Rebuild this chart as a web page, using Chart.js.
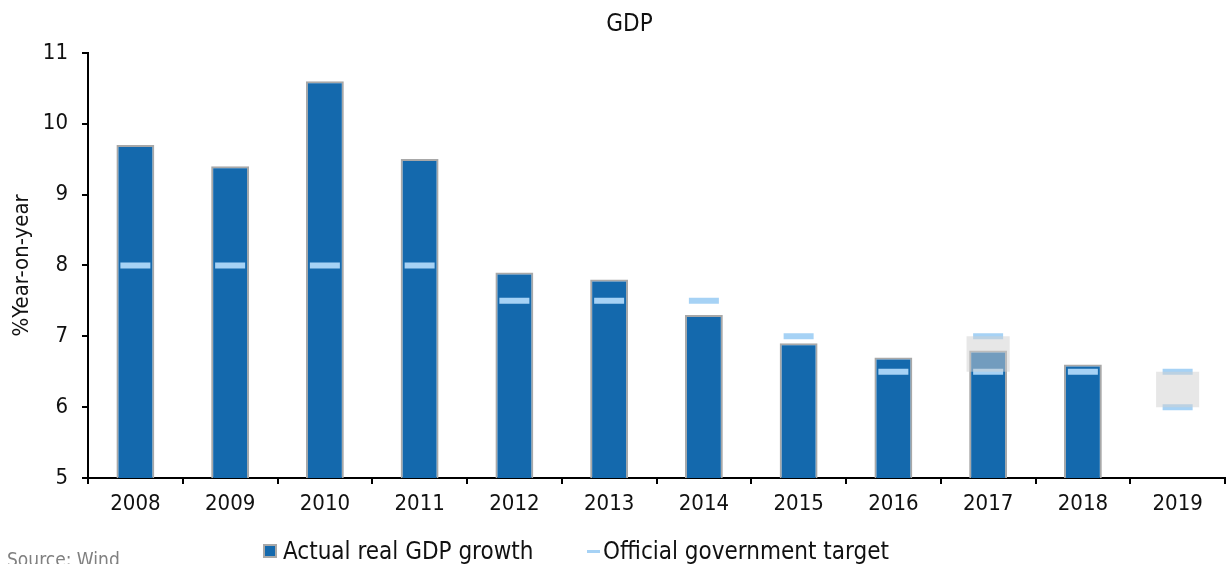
<!DOCTYPE html>
<html>
<head>
<meta charset="utf-8">
<script src="https://cdn.jsdelivr.net/npm/chart.js@4/dist/chart.umd.min.js"></script>
<style>
  html, body { margin: 0; padding: 0; background: #fff; overflow: hidden; }
  #wrap { position: relative; width: 1228px; height: 564px; overflow: hidden; }
  #source { position: absolute; left: 7px; top: 548px; font: 19px 'DejaVu Sans Condensed', 'DejaVu Sans', sans-serif; color: #808080; white-space: nowrap; }
  .leg { position: absolute; top: 537px; font: 24px 'DejaVu Sans Condensed', 'DejaVu Sans', sans-serif; color: #111; white-space: nowrap; }
  .sw-bar { position: absolute; left: 263px; top: 544px; width: 10px; height: 10px; background: #1469ad; border: 2px solid #a8a8a8; }
  .sw-line { position: absolute; left: 587px; top: 550px; width: 13px; height: 3px; background: #a6d2f5; }
</style>
</head>
<body>
<div id="wrap">
  <canvas id="chart1" width="1228" height="564"></canvas>
  <div class="sw-bar"></div>
  <div class="leg" style="left:283px">Actual real GDP growth</div>
  <div class="sw-line"></div>
  <div class="leg" style="left:603px">Official government target</div>
  <div id="source">Source: Wind</div>
</div>
<script>
// years on the x axis
const years = ['2008', '2009', '2010', '2011', '2012', '2013', '2014', '2015', '2016', '2017', '2018', '2019'];
// actual real GDP growth, %y/y
const actualGrowth = [9.7, 9.4, 10.6, 9.5, 7.9, 7.8, 7.3, 6.9, 6.7, 6.8, 6.6, null];
// official target (upper / single value)
const targetMain = [8, 8, 8, 8, 7.5, 7.5, 7.5, 7, 6.5, 7, 6.5, 6.5];
// lower end where the target was given as a range
const targetLow = [null, null, null, null, null, null, null, null, null, 6.5, null, 6];
// shaded target ranges
const targetRange = [null, null, null, null, null, null, null, null, null, [6.5, 7], null, [6, 6.5]];

const FONT = "'DejaVu Sans Condensed', 'DejaVu Sans', sans-serif";
Chart.defaults.font.family = FONT;
Chart.defaults.color = '#111';

const targetStyle = {
    type: 'line',
    showLine: false,
    pointStyle: 'line',
    pointRadius: 15,
    pointHoverRadius: 15,
    pointBorderWidth: 6,
    pointBorderColor: '#a6d2f5',
    borderColor: '#a6d2f5',
    order: 1
};

// nudge the title a bit right, like the original
const titleShift = {
    id: 'titleShift',
    afterLayout(chart) {
        const t = chart.titleBlock;
        if (t) { t.left += 17; t.right += 17; }
    }
};

const ctx = document.getElementById('chart1').getContext('2d');
const chart1 = new Chart(ctx, {
    type: 'bar',
    data: {
        labels: years,
        datasets: [
            {
                label: 'Target range',
                data: targetRange,
                backgroundColor: 'rgba(208,208,208,0.5)',
                borderWidth: 0,
                grouped: false,
                categoryPercentage: 1,
                barPercentage: 0.455,
                order: 0
            },
            Object.assign({ label: 'Official government target', data: targetMain }, targetStyle),
            Object.assign({ label: 'Official government target (low)', data: targetLow }, targetStyle),
            {
                label: 'Actual real GDP growth',
                data: actualGrowth,
                backgroundColor: '#1469ad',
                borderColor: '#a8a8a8',
                borderWidth: 2,
                grouped: false,
                categoryPercentage: 1,
                barPercentage: 0.4,
                order: 2
            }
        ]
    },
    plugins: [titleShift],
    options: {
        responsive: false,
        animation: false,
        layout: { autoPadding: false, padding: { left: 0, right: 3, top: 0, bottom: 46 } },
        plugins: {
            legend: { display: false },
            tooltip: { enabled: false },
            title: {
                display: true,
                text: 'GDP',
                color: '#111',
                font: { size: 24, weight: 'normal' },
                padding: { top: 10, bottom: 14 }
            }
        },
        scales: {
            x: {
                offset: true,
                grid: { display: true, offset: true, drawOnChartArea: false, drawTicks: true, tickLength: 6, color: '#000', lineWidth: 2 },
                border: { display: true, color: '#000', width: 2 },
                ticks: { font: { size: 22 }, padding: 7, color: '#111', maxRotation: 0 },
                afterFit: s => { s.height = 40; s.paddingLeft = 0; s.paddingRight = 0; }
            },
            y: {
                min: 5,
                max: 11,
                ticks: { stepSize: 1, font: { size: 22 }, padding: 14, color: '#111' },
                grid: { display: true, drawOnChartArea: false, drawTicks: true, tickLength: 6, color: '#000', lineWidth: 2 },
                border: { display: true, color: '#000', width: 2 },
                title: {
                    display: true,
                    text: '%Year-on-year',
                    color: '#111',
                    font: { size: 22 },
                    padding: { top: 9, bottom: 0 }
                },
                afterFit: s => { s.width = 88; }
            }
        }
    }
});
</script>
</body>
</html>
